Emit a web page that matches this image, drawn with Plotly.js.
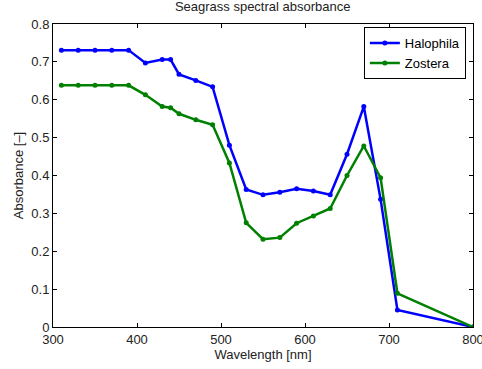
<!DOCTYPE html>
<html>
<head>
<meta charset="utf-8">
<script src="https://cdn.plot.ly/plotly-3.0.1.min.js"></script>
<style>html,body{margin:0;padding:0;background:#fff;}#chart{width:482px;height:369px;}</style>
</head>
<body>
<div id="chart"></div>
<script>
const wavelength = [310, 330, 350, 370, 390, 410, 430, 440, 450, 470, 490, 510, 530, 550, 570, 590, 610, 630, 650, 670, 690, 710, 800];
const halophila = [0.731, 0.731, 0.731, 0.731, 0.731, 0.697, 0.706, 0.706, 0.667, 0.651, 0.634, 0.480, 0.363, 0.349, 0.356, 0.365, 0.359, 0.349, 0.456, 0.582, 0.337, 0.045, 0.0];
const zostera = [0.638, 0.638, 0.638, 0.638, 0.638, 0.613, 0.582, 0.579, 0.563, 0.547, 0.534, 0.433, 0.275, 0.232, 0.236, 0.274, 0.293, 0.313, 0.400, 0.478, 0.394, 0.089, 0.0];
const xTicks = [300, 400, 500, 600, 700, 800];
const yTicks = [0, 0.1, 0.2, 0.3, 0.4, 0.5, 0.6, 0.7, 0.8];
const yTickText = ['0', '0.1', '0.2', '0.3', '0.4', '0.5', '0.6', '0.7', '0.8'];

const font = {family: 'Liberation Sans, Arial, sans-serif', size: 13, color: '#222'};
const traces = [
  {x: wavelength, y: halophila, name: 'Halophila', mode: 'lines+markers',
   line: {color: '#0000ff', width: 2.5}, marker: {color: '#0000ff', size: 5}},
  {x: wavelength, y: zostera, name: 'Zostera', mode: 'lines+markers',
   line: {color: '#008000', width: 2.5}, marker: {color: '#008000', size: 5}}
];
const axisBase = {showline: true, linecolor: '#000', linewidth: 1, mirror: 'ticks', ticks: 'inside',
  ticklen: 4, tickcolor: '#000', showgrid: false, zeroline: false, tickfont: font, ticklabeloverflow: 'allow'};
const layout = {
  width: 482, height: 369,
  margin: {l: 53, r: 9, t: 24, b: 42},
  paper_bgcolor: '#fff', plot_bgcolor: '#fff',
  font: font,
  title: {text: 'Seagrass spectral absorbance', font: {family: font.family, size: 13, color: '#222'}, x: 0.545, xanchor: 'center', y: 0.995, yanchor: 'top'},
  xaxis: Object.assign({}, axisBase, {range: [300, 800], tickvals: xTicks, ticktext: xTicks.map(String),
    title: {text: 'Wavelength [nm]', font: font, standoff: 0}}),
  yaxis: Object.assign({}, axisBase, {range: [0, 0.8], tickvals: yTicks, ticktext: yTickText,
    title: {text: 'Absorbance [–]', font: font, standoff: 4}}),
  showlegend: true,
  legend: {x: 0.983, y: 0.99, xanchor: 'right', yanchor: 'top', bgcolor: '#fff', bordercolor: '#000', borderwidth: 1,
    font: {family: font.family, size: 13, color: '#000'}, tracegroupgap: 0, itemwidth: 30}
};
Plotly.newPlot('chart', traces, layout, {displayModeBar: false, staticPlot: true});
</script>
</body>
</html>
